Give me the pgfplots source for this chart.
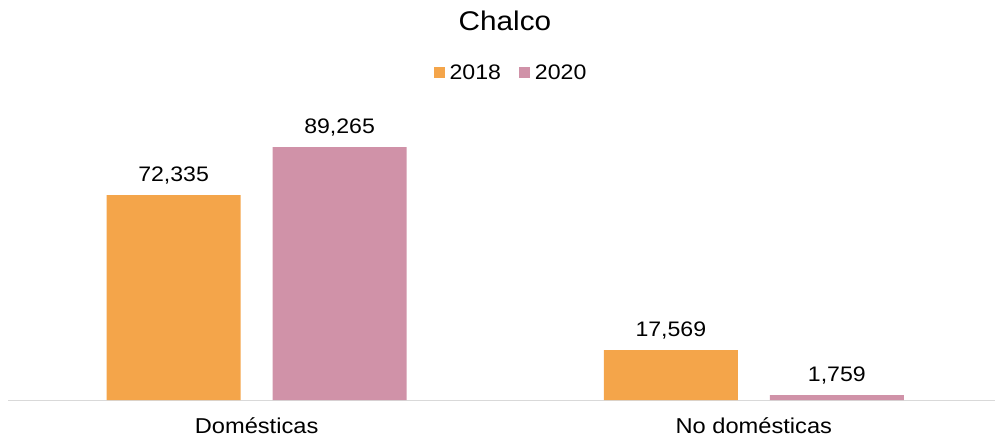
\documentclass[border=0pt]{standalone}
\usepackage{pgfplots}
\pgfplotsset{compat=1.18}
\usepackage{fontspec}
\setmainfont{Liberation Sans}[FakeStretch=1.1]
\definecolor{cOrange}{HTML}{F4A54A}
\definecolor{cPink}{HTML}{D092A8}
\definecolor{cAxis}{HTML}{D9D9D9}
\begin{document}
\begin{tikzpicture}
\path[use as bounding box] (0,0) rectangle (995bp,439bp);
\begin{axis}[
  at={(8bp,39bp)}, anchor=south west,
  scale only axis, width=987bp, height=283.4bp,
  xmin=-0.5, xmax=1.485, ymin=0, ymax=100000,
  clip=false,
  axis x line*=bottom, axis y line=none,
  x axis line style={draw=cAxis, line width=1bp, -},
  xtick={0,1}, xticklabels={Domésticas, No domésticas},
  major tick length=0pt,
  xticklabel style={anchor=base, yshift=-33bp, font=\fontsize{21.5bp}{24bp}\selectfont},
  ybar=32bp, bar width=134bp,
  nodes near coords,
  nodes near coords style={anchor=base, yshift=14bp, font=\fontsize{21bp}{24bp}\selectfont, text=black},
  /pgf/number format/.cd, fixed, precision=0, 1000 sep={,}, assume math mode=true,
  /pgfplots/.cd,
  title={Chalco},
  title style={at={(0.5035,1.316)}, anchor=center, font=\fontsize{27bp}{30bp}\selectfont},
  legend columns=2,
  legend style={at={(0.5096,1.154)}, anchor=center, draw=none, fill=none,
    font=\fontsize{21bp}{24bp}\selectfont, inner sep=0pt,
    /tikz/every odd column/.append style={column sep=3bp},
    /tikz/every even column/.append style={column sep=16bp}},
  legend image code/.code={\fill[#1] (0bp,-5.5bp) rectangle (11bp,5.5bp);},
]
\addplot[fill=cOrange, draw=none] coordinates {(0,72335) (1,17569)};
\addplot[fill=cPink, draw=none] coordinates {(0,89265) (1,1759)};
\legend{2018,2020}
\end{axis}
\end{tikzpicture}
\end{document}
